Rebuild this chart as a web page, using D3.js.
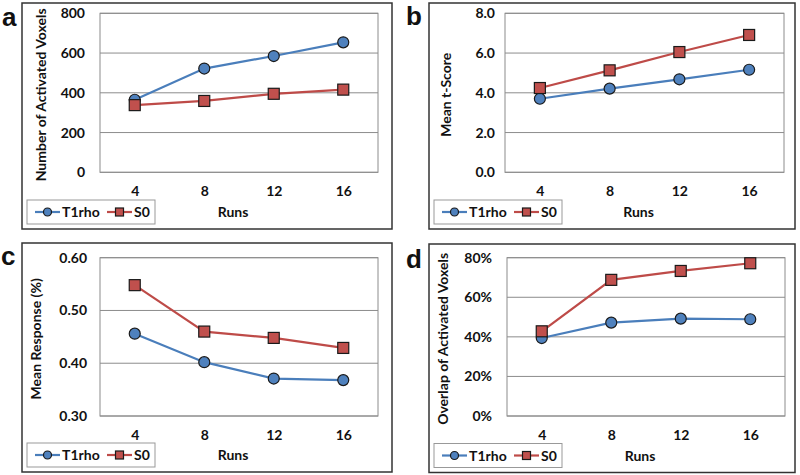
<!DOCTYPE html>
<html><head><meta charset="utf-8">
<script src="https://cdn.jsdelivr.net/npm/d3@7"></script>
<style>body{margin:0;background:#fff}svg{display:block}text{font-family:Lato,"Open Sans",sans-serif;font-weight:bold;fill:#111}</style>
</head><body><svg id="c" width="800" height="475"></svg>
<script>
const runs = ["4","8","12","16"];
const seriesNames = ["T1rho","S0"];
const voxT1rho = [365, 522, 585, 654];
const voxS0 = [338, 359, 395, 416];
const tScoreT1rho = [3.70, 4.21, 4.68, 5.16];
const tScoreS0 = [4.24, 5.13, 6.05, 6.91];
const respT1rho = [0.456, 0.402, 0.371, 0.368];
const respS0 = [0.548, 0.460, 0.448, 0.429];
const overlapT1rho = [0.394, 0.472, 0.492, 0.489];
const overlapS0 = [0.428, 0.688, 0.733, 0.772];
const ticksA = [0,200,400,600,800];
const ticksB = [0,2,4,6,8];
const ticksC = [0.30,0.40,0.50,0.60];
const ticksD = [0,0.2,0.4,0.6,0.8];

const panels = [
 {label:"a", title:"Number of Activated Voxels", s:[voxT1rho,voxS0], ticks:ticksA, fmt:d3.format("d"),
  frame:[22,3,392,229], plot:[100,13.3,378,172.3], lab:[2,26], titleX:46, tickGap:15},
 {label:"b", title:"Mean t-Score", s:[tScoreT1rho,tScoreS0], ticks:ticksB, fmt:d3.format(".1f"),
  frame:[429,3,795,229], plot:[505,13.3,784,172.3], lab:[406,25], titleX:451, tickGap:10},
 {label:"c", title:"Mean Response (%)", s:[respT1rho,respS0], ticks:ticksC, fmt:d3.format(".2f"),
  frame:[22,243,392,472], plot:[100,257.7,378,416], lab:[1,265], titleX:41, tickGap:13},
 {label:"d", title:"Overlap of Activated Voxels", s:[overlapT1rho,overlapS0], ticks:ticksD, fmt:d3.format(".0%"),
  frame:[429,244,795,472.5], plot:[507,257.7,785,416], lab:[406,268], titleX:448, tickGap:15}
];
const lineCol = ["#4A7EBB","#BE4B48"];
const fillCol = ["#4F81BD","#C0504D"];
const svg = d3.select("#c");

function marker(g, i, x, y, size){
  if(i===0){
    g.append("circle").attr("cx",x).attr("cy",y).attr("r",size/2)
     .attr("fill",fillCol[0]).attr("stroke","#1a1a1a").attr("stroke-width",1.2);
  } else {
    g.append("rect").attr("x",x-size/2).attr("y",y-size/2).attr("width",size).attr("height",size)
     .attr("fill",fillCol[1]).attr("stroke","#1a1a1a").attr("stroke-width",1.2);
  }
}

panels.forEach(p=>{
  const g = svg.append("g");
  const [fx0,fy0,fx1,fy1] = p.frame;
  const [px0,py0,px1,py1] = p.plot;
  g.append("rect").attr("x",fx0).attr("y",fy0).attr("width",fx1-fx0).attr("height",fy1-fy0)
   .attr("fill","#fff").attr("stroke","#333").attr("stroke-width",1.5);
  g.append("text").attr("x",p.lab[0]).attr("y",p.lab[1]).text(p.label)
   .style("font-family","'Liberation Sans',Arial,sans-serif").style("font-size","26px").attr("fill","#000");

  const x = d3.scalePoint().domain(runs).range([px0,px1]).padding(0.5);
  const y = d3.scaleLinear().domain([p.ticks[0], p.ticks[p.ticks.length-1]]).range([py1,py0]);

  // gridlines
  g.append("g").selectAll("line").data(p.ticks).join("line")
   .attr("x1",px0).attr("x2",px1).attr("y1",d=>y(d)).attr("y2",d=>y(d))
   .attr("stroke","#8c8c8c").attr("stroke-width",1);
  g.append("rect").attr("x",px0).attr("y",py0).attr("width",px1-px0).attr("height",py1-py0)
   .attr("fill","none").attr("stroke","#8c8c8c").attr("stroke-width",1);

  // y axis labels
  const ya = d3.axisLeft(y).tickValues(p.ticks).tickFormat(p.fmt).tickSize(0).tickPadding(p.tickGap);
  const yg = g.append("g").attr("transform",`translate(${px0},0)`).call(ya);
  yg.select(".domain").remove();
  yg.selectAll("text").style("font-size","14px").style("font-family","Lato,sans-serif").style("font-weight","bold").attr("fill","#111");

  // x axis labels
  const xa = d3.axisBottom(x).tickSize(0).tickPadding(14);
  const xg = g.append("g").attr("transform",`translate(0,${py1})`).call(xa);
  xg.select(".domain").remove();
  xg.selectAll("text").style("font-size","14px").style("font-family","Lato,sans-serif").style("font-weight","bold").attr("fill","#111");

  // y title
  g.append("text").attr("transform",`translate(${p.titleX},${(py0+py1)/2+2}) rotate(-90)`)
   .attr("text-anchor","middle").style("font-size","14px").text(p.title);
  // x title
  g.append("text").attr("x",(px0+px1)/2-6).attr("y",fy1-12).attr("text-anchor","middle")
   .style("font-size","14px").text("Runs");

  // lines
  p.s.forEach((vals,i)=>{
    const line = d3.line().x((d,j)=>x(runs[j])).y(d=>y(d));
    g.append("path").datum(vals).attr("d",line).attr("fill","none")
     .attr("stroke",lineCol[i]).attr("stroke-width",2.2);
  });
  p.s.forEach((vals,i)=>{
    vals.forEach((v,j)=>marker(g,i,x(runs[j]),y(v),11));
  });

  // legend
  const lx = fx0+5, ly = fy1-29;
  g.append("rect").attr("x",lx).attr("y",ly).attr("width",128).attr("height",24)
   .attr("fill","#fff").attr("stroke","#999").attr("stroke-width",1);
  const cy = ly+12;
  const items = [{x:lx+8},{x:lx+80}];
  items.forEach((it,i)=>{
    g.append("line").attr("x1",it.x).attr("x2",it.x+25).attr("y1",cy).attr("y2",cy)
     .attr("stroke",lineCol[i]).attr("stroke-width",2.2);
    marker(g,i,it.x+12.5,cy,8);
    g.append("text").attr("x",it.x+27).attr("y",cy+5).style("font-size","14px").text(seriesNames[i]);
  });
});
</script></body></html>
